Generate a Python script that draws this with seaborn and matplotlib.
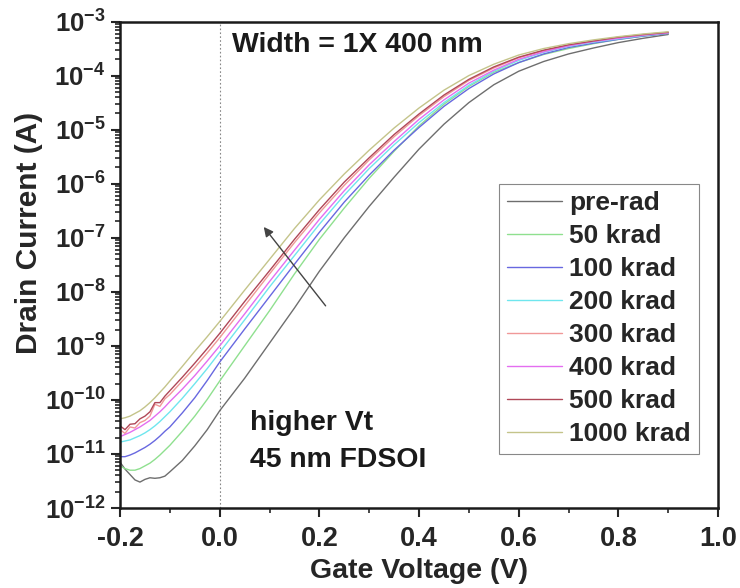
import numpy as np
import pandas as pd
import matplotlib
matplotlib.use("Agg")
import matplotlib.pyplot as plt
import seaborn as sns
from matplotlib.ticker import LogLocator, MultipleLocator, FixedLocator, NullFormatter

# ---------------- data ----------------
gate_voltage = [-0.2, -0.19, -0.18, -0.17, -0.16, -0.15, -0.14, -0.13, -0.12, -0.11, -0.1,
                -0.075, -0.05, -0.025, 0.0, 0.05, 0.1, 0.15, 0.2, 0.25, 0.3, 0.35, 0.4,
                0.45, 0.5, 0.55, 0.6, 0.65, 0.7, 0.75, 0.8, 0.85, 0.9]

# log10 of drain current (A)
log_pre_rad = [-11.15, -11.28, -11.38, -11.48, -11.52, -11.47, -11.44, -11.45, -11.44, -11.41, -11.33,
               -11.12, -10.85, -10.55, -10.2, -9.6, -8.95, -8.3, -7.62, -7.0, -6.42, -5.88, -5.36,
               -4.9, -4.5, -4.17, -3.92, -3.74, -3.6, -3.49, -3.39, -3.31, -3.24]
log_50k = [-11.22, -11.27, -11.3, -11.3, -11.27, -11.22, -11.17, -11.1, -11.02, -10.93, -10.84,
           -10.58, -10.3, -9.99, -9.65, -9.0, -8.35, -7.67, -7.03, -6.45, -5.9, -5.4, -4.93,
           -4.53, -4.2, -3.94, -3.76, -3.61, -3.5, -3.41, -3.33, -3.27, -3.22]
log_100k = [-11.05, -11.05, -11.02, -10.98, -10.93, -10.88, -10.82, -10.75, -10.67, -10.58, -10.5,
            -10.24, -9.96, -9.64, -9.3, -8.69, -8.09, -7.49, -6.9, -6.34, -5.84, -5.38, -4.96,
            -4.57, -4.24, -3.97, -3.76, -3.6, -3.48, -3.4, -3.33, -3.27, -3.22]
log_200k = [-10.78, -10.76, -10.74, -10.7, -10.66, -10.61, -10.55, -10.48, -10.4, -10.31, -10.22,
            -9.97, -9.7, -9.42, -9.12, -8.52, -7.91, -7.33, -6.75, -6.21, -5.72, -5.28, -4.87,
            -4.5, -4.18, -3.92, -3.72, -3.57, -3.46, -3.38, -3.32, -3.26, -3.21]
log_300k = [-10.55, -10.62, -10.5, -10.52, -10.42, -10.38, -10.3, -10.08, -10.12, -9.98, -9.9,
            -9.65, -9.4, -9.13, -8.85, -8.26, -7.67, -7.09, -6.54, -6.03, -5.56, -5.13, -4.74,
            -4.39, -4.09, -3.86, -3.67, -3.54, -3.44, -3.36, -3.3, -3.25, -3.2]
log_400k = [-10.68, -10.64, -10.6, -10.55, -10.5, -10.44, -10.38, -10.3, -10.22, -10.13, -10.03,
            -9.8, -9.55, -9.28, -9.0, -8.41, -7.81, -7.23, -6.66, -6.13, -5.65, -5.22, -4.81,
            -4.45, -4.14, -3.9, -3.7, -3.56, -3.45, -3.37, -3.31, -3.25, -3.21]
log_500k = [-10.48, -10.55, -10.45, -10.44, -10.35, -10.3, -10.22, -10.05, -10.05, -9.93, -9.83,
            -9.58, -9.32, -9.05, -8.77, -8.18, -7.61, -7.03, -6.48, -5.97, -5.52, -5.09, -4.71,
            -4.36, -4.07, -3.84, -3.66, -3.53, -3.43, -3.36, -3.29, -3.24, -3.2]
log_1000k = [-10.35, -10.33, -10.3, -10.25, -10.2, -10.13, -10.05, -9.96, -9.86, -9.76, -9.65,
             -9.38, -9.1, -8.83, -8.55, -7.97, -7.4, -6.83, -6.3, -5.82, -5.38, -4.97, -4.6,
             -4.27, -4.0, -3.79, -3.62, -3.5, -3.41, -3.34, -3.28, -3.23, -3.19]

doses = ["pre-rad", "50 krad", "100 krad", "200 krad", "300 krad", "400 krad", "500 krad", "1000 krad"]
series = [log_pre_rad, log_50k, log_100k, log_200k, log_300k, log_400k, log_500k, log_1000k]
colors = ["#6e6e6e", "#8fe08f", "#6868e0", "#6fe6ee", "#f09898", "#e46ef0", "#b04858", "#c4c48a"]

x_ticks = [-0.2, 0.0, 0.2, 0.4, 0.6, 0.8, 1.0]
x_tick_labels = ["-0.2", "0.0", "0.2", "0.4", "0.6", "0.8", "1.0"]
y_exponents = [-12, -11, -10, -9, -8, -7, -6, -5, -4, -3]

# ---------------- build table ----------------
rows = []
for name, vals in zip(doses, series):
    for v, lg in zip(gate_voltage, vals):
        rows.append({"V": v, "I": 10.0 ** lg, "dose": name})
df = pd.DataFrame(rows)

# ---------------- style ----------------
sns.set_style("ticks")
plt.rcParams["font.family"] = ["Liberation Sans", "DejaVu Sans"]
plt.rcParams["font.weight"] = "bold"
plt.rcParams["mathtext.fontset"] = "custom"
plt.rcParams["mathtext.rm"] = "Liberation Sans:bold"
plt.rcParams["mathtext.bf"] = "Liberation Sans:bold"
plt.rcParams["mathtext.it"] = "Liberation Sans:bold"
plt.rcParams["axes.unicode_minus"] = False

fig = plt.figure(figsize=(7.4, 5.88), dpi=100)
ax = fig.add_axes([0.1622, 0.136, 0.8081, 0.8274])

palette = dict(zip(doses, colors))
sns.lineplot(data=df, x="V", y="I", hue="dose", hue_order=doses, palette=palette,
             estimator=None, sort=False, linewidth=1.0, ax=ax, legend=True)

ax.set_yscale("log")
ax.set_xlim(-0.2, 1.0)
ax.set_ylim(1e-12, 1e-3)

ax.xaxis.set_major_locator(FixedLocator(x_ticks))
ax.set_xticklabels(x_tick_labels)
ax.xaxis.set_minor_locator(MultipleLocator(0.1))
ax.yaxis.set_major_locator(FixedLocator([10.0 ** e for e in y_exponents]))
ax.set_yticklabels([r"$\mathbf{10^{%d}}$" % e for e in y_exponents])
ax.yaxis.set_minor_locator(LogLocator(base=10, subs=np.arange(2, 10), numticks=30))
ax.yaxis.set_minor_formatter(NullFormatter())

ax.tick_params(axis="both", which="major", direction="out", length=6.5, width=1.5,
               top=False, right=False)
ax.tick_params(axis="x", which="major", labelsize=19.5, pad=6.5)
ax.tick_params(axis="y", which="major", labelsize=18.5, pad=4)
ax.tick_params(axis="both", which="minor", direction="out", length=3.5, width=1.2,
               top=False, right=False)
for lab in ax.get_xticklabels() + ax.get_yticklabels():
    lab.set_fontweight("bold")

for sp in ax.spines.values():
    sp.set_linewidth(1.8)
    sp.set_color("#1a1a1a")

ax.set_xlabel("Gate Voltage (V)", fontsize=20.5, fontweight="bold", labelpad=4)
ax.set_ylabel("Drain Current (A)", fontsize=21.5, fontweight="bold")
ax.yaxis.set_label_coords(-0.128, 0.565)

ax.axvline(0.0, color="#888888", linestyle=(0, (1.5, 2)), linewidth=0.8, zorder=1)

ax.text(0.187, 0.951, "Width = 1X 400 nm", transform=ax.transAxes, fontsize=20.4,
        fontweight="bold", va="center", ha="left", color="#1a1a1a")
ax.text(0.217, 0.175, "higher Vt", transform=ax.transAxes, fontsize=20.4,
        fontweight="bold", va="center", ha="left", color="#1a1a1a")
ax.text(0.217, 0.099, "45 nm FDSOI", transform=ax.transAxes, fontsize=20.4,
        fontweight="bold", va="center", ha="left", color="#1a1a1a")

ax.annotate("", xy=(0.085, 10 ** -6.76), xytext=(0.216, 10 ** -8.30),
            arrowprops=dict(arrowstyle="-|>", color="#444444", lw=1.0, mutation_scale=14))

leg = ax.legend(loc="upper right", bbox_to_anchor=(0.968, 0.667), fontsize=19,
                frameon=True, fancybox=False, edgecolor="#888888", framealpha=1,
                handlelength=2.1, handletextpad=0.28, labelspacing=0.34, borderpad=0.3,
                borderaxespad=0)
leg.get_frame().set_linewidth(0.8)
for t in leg.get_texts():
    t.set_fontweight("bold")
for h in leg.get_lines():
    h.set_linewidth(1.0)

fig.savefig("out.png", dpi=100)
